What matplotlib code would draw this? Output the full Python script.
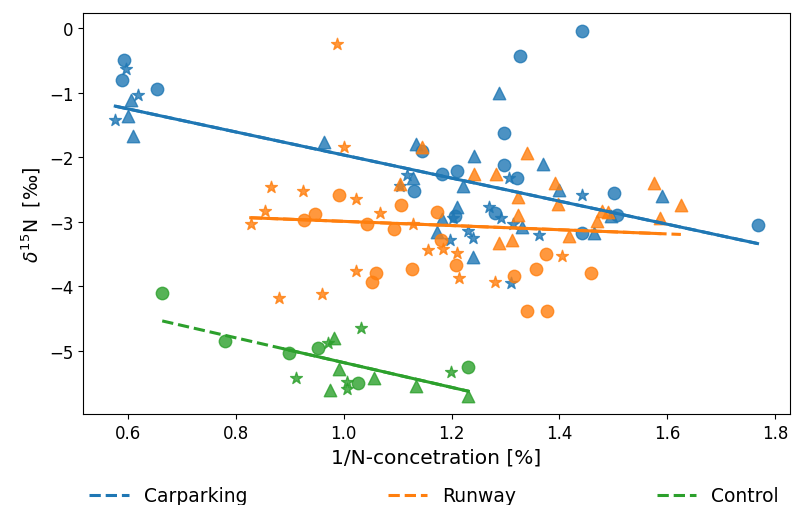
import matplotlib.pyplot as plt
import numpy as np

## parameters
fs0 = 12
fs1 = 13.5
fs2 = 14.5
fig_size = (7.92, 5.06)
ms = 80
alpha0 = 0.8
lw0 = 2.2

c_cp = "tab:blue"
c_rw = "tab:orange"
c_ct = "tab:green"

##----- data -----##

## Carparking
cp_circ_x = [0.593, 0.589, 0.655, 1.441, 1.327, 1.297, 1.145, 1.131, 1.297, 1.183, 1.211, 1.322,
             1.501, 1.280, 1.207, 1.441, 1.507, 1.767]
cp_circ_y = [-0.49, -0.81, -0.94, -0.05, -0.43, -1.63, -1.90, -2.52, -2.12, -2.26, -2.22, -2.32,
             -2.55, -2.86, -2.91, -3.18, -2.90, -3.05]
cp_tri_x = [0.607, 0.601, 0.609, 0.963, 1.134, 1.129, 1.288, 1.242, 1.370, 1.221, 1.399, 1.210,
            1.331, 1.182, 1.173, 1.240, 1.464, 1.590, 1.495]
cp_tri_y = [-1.12, -1.36, -1.67, -1.76, -1.80, -2.32, -1.00, -1.99, -2.10, -2.45, -2.51, -2.78,
            -3.08, -2.96, -3.16, -3.55, -3.18, -2.60, -2.91]
cp_star_x = [0.596, 0.619, 0.577, 1.118, 1.105, 1.306, 1.441, 1.270, 1.291, 1.202, 1.314, 1.230,
             1.240, 1.197, 1.362, 1.311]
cp_star_y = [-0.63, -1.03, -1.43, -2.27, -2.45, -2.33, -2.59, -2.77, -2.94, -2.94, -3.04, -3.15,
             -3.25, -3.28, -3.20, -3.95]

## Runway
rw_circ_x = [0.991, 1.107, 0.926, 0.948, 1.043, 1.094, 1.061, 1.052, 1.126, 1.173, 1.181, 1.375,
             1.208, 1.315, 1.357, 1.459, 1.340, 1.377]
rw_circ_y = [-2.59, -2.74, -2.98, -2.88, -3.04, -3.11, -3.79, -3.94, -3.73, -2.85, -3.29, -3.50,
             -3.67, -3.84, -3.73, -3.79, -4.39, -4.38]
rw_tri_x = [1.145, 1.104, 1.340, 1.242, 1.283, 1.391, 1.324, 1.397, 1.479, 1.490, 1.324, 1.288,
            1.313, 1.418, 1.470, 1.576, 1.625, 1.586]
rw_tri_y = [-1.84, -2.41, -1.94, -2.26, -2.26, -2.40, -2.62, -2.72, -2.83, -2.85, -2.89, -3.33,
            -3.28, -3.22, -2.99, -2.40, -2.75, -2.94]
rw_star_x = [0.988, 1.001, 0.866, 0.924, 1.023, 0.854, 1.067, 0.828, 1.129, 1.157, 1.185, 1.210,
             1.023, 0.880, 0.960, 1.213, 1.280, 1.405]
rw_star_y = [-0.25, -1.84, -2.47, -2.52, -2.65, -2.83, -2.86, -3.04, -3.04, -3.44, -3.43, -3.48,
             -3.77, -4.18, -4.12, -3.88, -3.94, -3.54]

## Control
ct_circ_x = [0.664, 0.780, 0.898, 0.953, 1.026, 1.230]
ct_circ_y = [-4.11, -4.85, -5.04, -4.96, -5.51, -5.26]
ct_tri_x = [0.983, 0.992, 0.974, 1.056, 1.134, 1.231]
ct_tri_y = [-4.80, -5.29, -5.61, -5.43, -5.55, -5.70]
ct_star_x = [0.972, 0.912, 1.007, 1.007, 1.032, 1.199]
ct_star_y = [-4.89, -5.43, -5.48, -5.60, -4.65, -5.33]

## regression lines (slope, intercept) and x-range of the solid part
fit_cp = [-1.790, -0.177]
fit_rw = [-0.325, -2.671]
fit_ct = [-1.922, -3.264]
solid_cp = [0.577, 1.767]
solid_rw = [0.828, 1.586]
solid_ct = [0.890, 1.231]

groups = [
    ("Carparking", c_cp, (cp_circ_x, cp_circ_y), (cp_tri_x, cp_tri_y), (cp_star_x, cp_star_y), fit_cp, solid_cp),
    ("Runway", c_rw, (rw_circ_x, rw_circ_y), (rw_tri_x, rw_tri_y), (rw_star_x, rw_star_y), fit_rw, solid_rw),
    ("Control", c_ct, (ct_circ_x, ct_circ_y), (ct_tri_x, ct_tri_y), (ct_star_x, ct_star_y), fit_ct, solid_ct),
]

##----- plot -----##
fig, ax = plt.subplots(figsize=fig_size, dpi=100)
fig.subplots_adjust(left=0.105, right=0.997, top=0.972, bottom=0.18)

for name, col, circ, tri, star, fit, solid in groups:
    ax.scatter(circ[0], circ[1], s=ms, marker="o", color=col, alpha=alpha0)
    ax.scatter(tri[0], tri[1], s=ms, marker="^", color=col, alpha=alpha0)
    ax.scatter(star[0], star[1], s=ms, marker="*", color=col, alpha=alpha0)

    all_x = np.concatenate([circ[0], tri[0], star[0]])
    xd = np.array([all_x.min(), all_x.max()])
    ax.plot(xd, fit[0]*xd + fit[1], "--", color=col, lw=lw0, label=name)
    xs = np.array(solid)
    ax.plot(xs, fit[0]*xs + fit[1], "-", color=col, lw=lw0)

ax.tick_params(axis="both", labelsize=fs0)
ax.set_xlabel("1/N-concetration [%]", fontsize=fs2)
ax.set_ylabel(r"$\delta^{15}$N  [‰]", fontsize=fs1)

fig.legend(loc="center", bbox_to_anchor=(0.548, 0.018), ncol=3, frameon=False,
           fontsize=fs1, columnspacing=7.5, handlelength=2.1)

fig.savefig("out.png", dpi=100)
